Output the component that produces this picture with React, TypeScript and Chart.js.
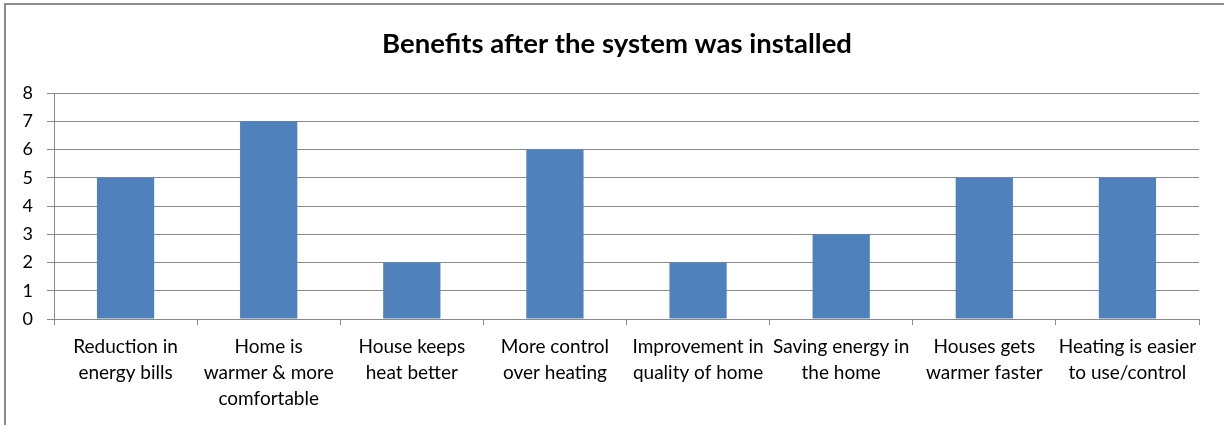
import React, { useEffect, useRef } from "react";
import { Chart, registerables } from "chart.js";

Chart.register(...registerables);

const categories: string[][] = [
  ["Reduction in", "energy bills"],
  ["Home is", "warmer & more", "comfortable"],
  ["House keeps", "heat better"],
  ["More control", "over heating"],
  ["Improvement in", "quality of home"],
  ["Saving energy in", "the home"],
  ["Houses gets", "warmer faster"],
  ["Heating is easier", "to use/control"],
];
const values: number[] = [5, 7, 2, 6, 2, 3, 5, 5];
const titleText = "Benefits after the system was installed";
const yMin = 0;
const yMax = 8;
const yStep = 1;

const FONT = "Lato, 'Open Sans', sans-serif";
const GRID = "#8a8a8a";

const borderPlugin = {
  id: "outerBorder",
  beforeDraw(chart: any) {
    const ctx = chart.ctx;
    ctx.save();
    ctx.fillStyle = "#ffffff";
    ctx.fillRect(0, 0, chart.width, chart.height);
    ctx.strokeStyle = "#8c8c8c";
    ctx.lineWidth = 2;
    ctx.strokeRect(5, 4, chart.width + 20, chart.height + 20);
    ctx.restore();
  },
};

export default function App() {
  const ref = useRef<HTMLCanvasElement | null>(null);
  useEffect(() => {
    if (!ref.current) return;
    const chart = new Chart(ref.current, {
      type: "bar",
      data: {
        labels: categories,
        datasets: [
          {
            data: values,
            backgroundColor: "#4F81BD",
            borderWidth: 0,
            categoryPercentage: 1,
            barPercentage: 0.4,
          },
        ],
      },
      options: {
        animation: false,
        responsive: false,
        maintainAspectRatio: false,
        layout: { padding: { left: 10, right: 0, top: 0, bottom: 0 } },
        plugins: {
          legend: { display: false },
          tooltip: { enabled: false },
          title: {
            display: true,
            text: titleText,
            color: "#000000",
            font: { family: FONT, size: 27.5, weight: "bold", lineHeight: 1.2 },
            padding: { top: 28, bottom: 32 },
          },
        },
        scales: {
          x: {
            offset: true,
            grid: {
              offset: true,
              drawOnChartArea: false,
              drawTicks: true,
              tickLength: 6,
              color: GRID,
            },
            border: { color: GRID, width: 1 },
            ticks: {
              color: "#000000",
              font: { family: FONT, size: 19, lineHeight: 1.37 },
              maxRotation: 0,
              minRotation: 0,
              autoSkip: false,
              padding: 9,
            },
            afterFit(scale: any) {
              scale.height = 425 - 319;
            },
          },
          y: {
            min: yMin,
            max: yMax,
            ticks: {
              stepSize: yStep,
              color: "#000000",
              font: { family: FONT, size: 18 },
              padding: 14,
            },
            grid: { color: GRID, tickLength: 7, lineWidth: 1 },
            border: { color: GRID, width: 1 },
            afterFit(scale: any) {
              scale.width = 44;
            },
          },
          yRightSpace: {
            position: "right",
            display: true,
            min: yMin,
            max: yMax,
            grid: { display: false, drawTicks: false },
            ticks: { display: false },
            border: { display: false },
            afterFit(scale: any) {
              scale.width = 25;
            },
          },
        },
      },
      plugins: [borderPlugin],
    });
    return () => chart.destroy();
  }, []);
  return (
    <div style={{ position: "absolute", left: 0, top: 0, width: 1224, height: 425 }}>
      <canvas ref={ref} width={1224} height={425} />
    </div>
  );
}
